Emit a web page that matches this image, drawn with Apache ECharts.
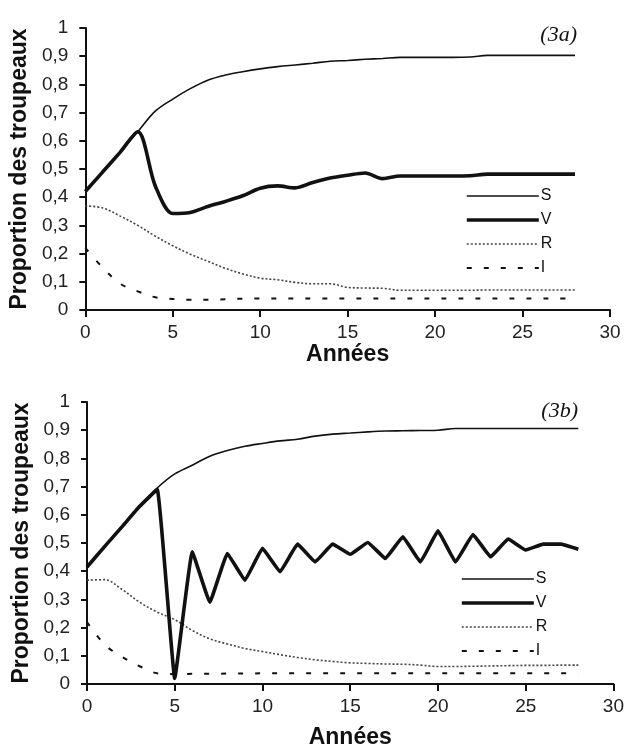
<!DOCTYPE html>
<html>
<head>
<meta charset="utf-8">
<script src="https://cdn.jsdelivr.net/npm/echarts@6/dist/echarts.min.js"></script>
<style>
  html, body { margin: 0; padding: 0; background: #fff; }
  #main { width: 627px; height: 754px; }
</style>
</head>
<body>
<div id="main"></div>
<script>
// années 0..28 (un point par an)
const annees = [0, 1, 2, 3, 4, 5, 6, 7, 8, 9, 10, 11, 12, 13, 14, 15, 16, 17, 18, 19, 20, 21, 22, 23, 24, 25, 26, 27, 28];

// (3a)
const sA = [0.42, 0.49, 0.56, 0.632, 0.705, 0.748, 0.785, 0.815, 0.833, 0.845, 0.855, 0.863, 0.869, 0.875, 0.882, 0.885, 0.889, 0.892, 0.896, 0.896, 0.896, 0.896, 0.897, 0.903, 0.903, 0.903, 0.903, 0.903, 0.903];
const vA = [0.42, 0.49, 0.56, 0.632, 0.44, 0.342, 0.346, 0.367, 0.385, 0.405, 0.432, 0.44, 0.433, 0.452, 0.468, 0.478, 0.486, 0.466, 0.475, 0.475, 0.475, 0.475, 0.476, 0.482, 0.482, 0.482, 0.482, 0.482, 0.482];
const rA = [0.369, 0.362, 0.333, 0.30, 0.262, 0.228, 0.198, 0.173, 0.148, 0.128, 0.113, 0.107, 0.098, 0.093, 0.093, 0.08, 0.078, 0.077, 0.07, 0.07, 0.07, 0.07, 0.07, 0.071, 0.071, 0.071, 0.071, 0.071, 0.071];
const iA = [0.22, 0.15, 0.093, 0.066, 0.045, 0.039, 0.036, 0.036, 0.038, 0.04, 0.041, 0.041, 0.041, 0.041, 0.041, 0.041, 0.041, 0.041, 0.041, 0.041, 0.041, 0.041, 0.041, 0.041, 0.041, 0.041, 0.041, 0.041, 0.041];

// (3b)
const sB = [0.415, 0.487, 0.558, 0.63, 0.695, 0.745, 0.776, 0.808, 0.828, 0.843, 0.853, 0.862, 0.868, 0.879, 0.886, 0.89, 0.894, 0.897, 0.898, 0.899, 0.90, 0.906, 0.906, 0.906, 0.906, 0.906, 0.906, 0.906, 0.906];
const vB = [0.415, 0.487, 0.558, 0.63, 0.69, 0.02, 0.469, 0.29, 0.463, 0.368, 0.481, 0.398, 0.496, 0.433, 0.496, 0.46, 0.502, 0.445, 0.522, 0.433, 0.543, 0.433, 0.53, 0.451, 0.514, 0.475, 0.496, 0.496, 0.478];
const rB = [0.368, 0.37, 0.335, 0.29, 0.255, 0.228, 0.19, 0.16, 0.142, 0.126, 0.115, 0.104, 0.094, 0.086, 0.08, 0.075, 0.073, 0.071, 0.07, 0.067, 0.062, 0.062, 0.063, 0.064, 0.065, 0.066, 0.066, 0.067, 0.067];
const iB = [0.22, 0.14, 0.096, 0.063, 0.038, 0.035, 0.036, 0.036, 0.037, 0.037, 0.038, 0.038, 0.038, 0.038, 0.038, 0.038, 0.038, 0.038, 0.038, 0.038, 0.038, 0.038, 0.038, 0.038, 0.038, 0.038, 0.038, 0.038, 0.038];

const noms = ['S', 'V', 'R', 'I'];

const FONT = "'Liberation Sans', Arial, sans-serif";
const pairs = (ys) => annees.map((x, k) => [x, ys[k]]);

// styles des 4 courbes
const styles = {
  S: { width: 1.6, color: '#111', type: 'solid' },
  V: { width: 3.6, color: '#111', type: 'solid' },
  R: { width: 1.6, color: '#444', type: [2, 2] },
  I: { width: 2, color: '#111', type: [5, 12] }
};

function makeSeries(idx, values, smooth) {
  return noms.map((nom, k) => ({
    name: nom, type: 'line', xAxisIndex: idx, yAxisIndex: idx,
    data: pairs(values[k]), symbol: 'none', showSymbol: false,
    smooth: nom === 'V' ? smooth : 0.35,
    lineStyle: styles[nom], itemStyle: { color: styles[nom].color },
    z: nom === 'V' ? 3 : 2
  }));
}

function xAxis(idx, gap) {
  return {
    type: 'value', gridIndex: idx, min: 0, max: 30, interval: 5,
    name: 'Années', nameLocation: 'middle', nameGap: gap,
    nameTextStyle: { fontFamily: FONT, fontWeight: 'bold', fontSize: 23, color: '#111' },
    axisLine: { lineStyle: { color: '#111', width: 2 } },
    axisTick: { length: 7, lineStyle: { color: '#111', width: 2 } },
    axisLabel: { margin: 13, fontFamily: FONT, fontSize: 19, color: '#222' },
    splitLine: { show: false }
  };
}

function yAxis(idx) {
  return {
    type: 'value', gridIndex: idx, min: 0, max: 1, interval: 0.1,
    name: 'Proportion des troupeaux', nameLocation: 'middle', nameGap: 50,
    nameTextStyle: { fontFamily: FONT, fontWeight: 'bold', fontSize: 23, color: '#111' },
    axisLine: { show: true, lineStyle: { color: '#111', width: 2 } },
    axisTick: { show: true, length: 6, lineStyle: { color: '#111', width: 2 } },
    axisLabel: {
      margin: 17, fontFamily: FONT, fontSize: 19, color: '#222',
      formatter: v => String(+v.toFixed(1)).replace('.', ',')
    },
    splitLine: { show: false }
  };
}

// légende : trait seul (pas de symbole), épaisseur et tirets de la série
function legend(left, top) {
  return {
    data: noms, orient: 'vertical', left: left, top: top,
    itemWidth: 72, itemHeight: 14, itemGap: 8, padding: 0,
    itemStyle: { opacity: 0 },
    lineStyle: { width: 'inherit', type: 'inherit' },
    textStyle: { fontFamily: FONT, fontSize: 16, color: '#111', padding: [0, 0, 0, -3] }
  };
}

function label(text, right, top) {
  return {
    text: text, right: right, top: top, padding: 0,
    textStyle: { fontFamily: "'Liberation Serif', 'Times New Roman', serif", fontStyle: 'italic', fontWeight: 'normal', fontSize: 22, color: '#111' }
  };
}

const chart = echarts.init(document.getElementById('main'), null, { renderer: 'canvas' });
chart.setOption({
  backgroundColor: '#ffffff',
  animation: false,
  title: [label('(3a)', 50, 24), label('(3b)', 49, 400)],
  legend: [legend(465, 188), legend(460, 571)],
  grid: [
    { left: 84, top: 28, width: 526, height: 282 },
    { left: 87, top: 402, width: 528, height: 282 }
  ],
  xAxis: [xAxis(0, 24), xAxis(1, 42)],
  yAxis: [yAxis(0), yAxis(1)],
  series: [
    ...makeSeries(0, [sA, vA, rA, iA], 0.3),
    ...makeSeries(1, [sB, vB, rB, iB], 0.08)
  ]
});
</script>
</body>
</html>
